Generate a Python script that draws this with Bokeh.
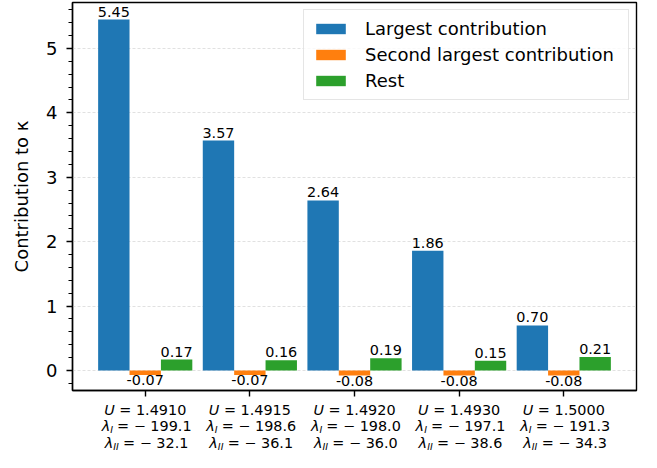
from bokeh.plotting import figure
from bokeh.layouts import column
from bokeh.models import (Range1d, SingleIntervalTicker, FixedTicker,
                          LabelSet, ColumnDataSource)
from bokeh.embed import file_html
from bokeh.resources import INLINE
from bokeh.core.properties import value

# ---------------- data ----------------
u_vals = ["1.4910", "1.4915", "1.4920", "1.4930", "1.5000"]
lambda_I = [-199.1, -198.6, -198.0, -197.1, -191.3]
lambda_II = [-32.1, -36.1, -36.0, -38.6, -34.3]
largest = [5.45, 3.57, 2.64, 1.86, 0.70]
second = [-0.07, -0.07, -0.08, -0.08, -0.08]
rest = [0.17, 0.16, 0.19, 0.15, 0.21]
series_names = ["Largest contribution", "Second largest contribution", "Rest"]
colors = ["#1f77b4", "#ff7f0e", "#2ca02c"]

FONT = "DejaVu Sans"
W = 641
H_MAIN = 400
H_STRIP = 52
BL, BR, BT, BB = 72, 5, 2, 10
Y0, Y1 = -0.311, 5.714
BAR_W = 0.3
xr = Range1d(-0.695, 4.695)

p = figure(width=W, height=H_MAIN, output_backend="svg", toolbar_location=None,
           x_range=xr, y_range=Range1d(Y0, Y1),
           min_border_left=BL, min_border_right=BR,
           min_border_top=BT, min_border_bottom=BB)

n = len(largest)
for vals, col, name, off in zip([largest, second, rest], colors, series_names,
                                [-BAR_W, 0.0, BAR_W]):
    xs = [i + off for i in range(n)]
    src = ColumnDataSource(dict(x=xs, top=vals))
    p.vbar(x="x", top="top", bottom=0, width=BAR_W, source=src,
           fill_color=col, line_color=None, legend_label=name)
    pos = ColumnDataSource(dict(x=[x for x, v in zip(xs, vals) if v >= 0],
                                y=[v for v in vals if v >= 0],
                                t=["%.2f" % v for v in vals if v >= 0]))
    neg = ColumnDataSource(dict(x=[x for x, v in zip(xs, vals) if v < 0],
                                y=[v for v in vals if v < 0],
                                t=["%.2f" % v for v in vals if v < 0]))
    p.add_layout(LabelSet(x="x", y="y", text="t", source=pos, y_offset=3,
                          text_align="center", text_baseline="bottom",
                          text_font=value(FONT), text_font_size="14.4px",
                          text_color="black"))
    p.add_layout(LabelSet(x="x", y="y", text="t", source=neg,
                          text_align="center", text_baseline="top",
                          text_font=value(FONT), text_font_size="14.4px",
                          text_color="black"))

# ---------------- axes ----------------
p.xaxis.ticker = FixedTicker(ticks=list(range(n)))
p.xaxis.major_label_overrides = {i: " " for i in range(n)}
p.xaxis.major_label_text_font_size = "1px"
p.xaxis.major_label_standoff = 0
p.xaxis.minor_tick_line_color = None
p.yaxis.ticker = SingleIntervalTicker(interval=1, num_minor_ticks=5)
for ax in [p.xaxis[0], p.yaxis[0]]:
    ax.axis_line_color = "black"
    ax.axis_line_width = 1.4
    ax.major_tick_line_color = "black"
    ax.major_tick_line_width = 1.4
    ax.major_tick_in = 0
    ax.major_tick_out = 6
    ax.minor_tick_in = 0
    ax.minor_tick_out = 4
    ax.minor_tick_line_width = 1.1
    ax.major_label_text_font = FONT
    ax.major_label_text_color = "black"
p.yaxis.minor_tick_line_color = "black"
p.yaxis.major_label_text_font_size = "18px"
p.yaxis.major_label_standoff = 9
p.yaxis.axis_label = "Contribution to κ"
p.yaxis.axis_label_text_font = FONT
p.yaxis.axis_label_text_font_style = "normal"
p.yaxis.axis_label_text_font_size = "18px"
p.yaxis.axis_label_text_color = "black"
p.yaxis.axis_label_standoff = 11

p.xgrid.grid_line_color = None
p.ygrid.grid_line_color = "#d9d9d9"
p.ygrid.grid_line_dash = "3 2"
p.ygrid.grid_line_width = 0.8

p.outline_line_color = "black"
p.outline_line_width = 1.4
p.background_fill_color = "white"
p.border_fill_color = "white"

# ---------------- legend ----------------
lg = p.legend[0]
lg.location = "top_right"
lg.margin = 7
lg.padding = 8
lg.spacing = 5
lg.label_height = 18
lg.label_width = 255
lg.glyph_width = 37
lg.glyph_height = 13
lg.label_standoff = 16
lg.label_text_font = FONT
lg.label_text_font_size = "18px"
lg.label_text_color = "black"
lg.border_line_color = "#cccccc"
lg.border_line_width = 1.2
lg.background_fill_alpha = 0.8

# ---------------- x tick labels (3 lines) in a strip below ----------------
s = figure(width=W, height=H_STRIP, output_backend="svg", toolbar_location=None,
           x_range=xr, y_range=Range1d(0, H_STRIP),
           min_border_left=BL, min_border_right=BR, min_border_top=0,
           min_border_bottom=0, x_axis_location=None, y_axis_location=None)
s.grid.visible = False
s.outline_line_color = None
s.background_fill_color = "white"
s.border_fill_color = "white"

TL = "14.4px"
SUB = "9.5px"
# vertical centres of the three label lines, measured up from the strip bottom
L1, L2, L3 = 43, 26.5, 10
SUBDROP = 3.5
idx = list(range(n))

def txt(xs, ys, texts, xoff, align, size=TL, style="normal"):
    s.text(x=xs, y=ys, text=texts, x_offset=xoff, text_align=align,
           text_baseline="middle", text_font=value(FONT),
           text_font_size=value(size), text_font_style=value(style),
           text_color="black")

# line 1: U = value
txt(idx, [L1] * n, ["U"] * n, -30.5, "right", style="italic")
txt(idx, [L1] * n, ["\u00a0= " + u for u in u_vals], -30.5, "left")
# line 2: lambda_I
txt(idx, [L2] * n, ["λ"] * n, -35, "right", style="italic")
txt(idx, [L2 - SUBDROP] * n, ["I"] * n, -35, "left", size=SUB, style="italic")
txt(idx, [L2] * n, ["\u2009= \u2212 " + ("%.1f" % abs(v)) for v in lambda_I],
    -31, "left")
# line 3: lambda_II
txt(idx, [L3] * n, ["λ"] * n, -32, "right", style="italic")
txt(idx, [L3 - SUBDROP] * n, ["II"] * n, -32, "left", size=SUB, style="italic")
txt(idx, [L3] * n, ["\u2009= \u2212 " + ("%.1f" % abs(v)) for v in lambda_II],
    -25, "left")

layout = column(p, s, spacing=0)
open("out.html", "w").write(file_html(layout, INLINE))
